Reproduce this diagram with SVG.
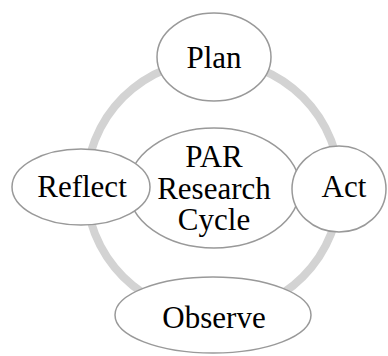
<svg xmlns="http://www.w3.org/2000/svg" width="388" height="356" viewBox="0 0 388 356">
<style>
.n{fill:#fff;stroke:#999;stroke-width:1.5}
.t{font-family:"Liberation Serif","Times New Roman",serif;font-size:31px;fill:#000;text-anchor:middle}
</style>
<rect width="388" height="356" fill="#fff"/>
<g id="connectors">
<circle cx="213" cy="187" r="127" fill="none" stroke="#d3d3d3" stroke-width="8"/>
</g>
<g id="center">
<ellipse class="n" cx="214" cy="188" rx="86" ry="60"/>
<text class="t" x="214" y="167">PAR</text>
<text class="t" x="214" y="199">Research</text>
<text class="t" x="214" y="230">Cycle</text>
</g>
<g id="plan">
<ellipse class="n" cx="214" cy="57" rx="57" ry="44"/>
<text class="t" x="214" y="68">Plan</text>
</g>
<g id="reflect">
<ellipse class="n" cx="81" cy="187" rx="69" ry="38"/>
<text class="t" x="82" y="197">Reflect</text>
</g>
<g id="act">
<ellipse class="n" cx="339" cy="189" rx="47" ry="43"/>
<text class="t" x="344" y="197">Act</text>
</g>
<g id="observe">
<ellipse class="n" cx="213" cy="315" rx="98" ry="38"/>
<text class="t" x="214" y="328">Observe</text>
</g>
</svg>
